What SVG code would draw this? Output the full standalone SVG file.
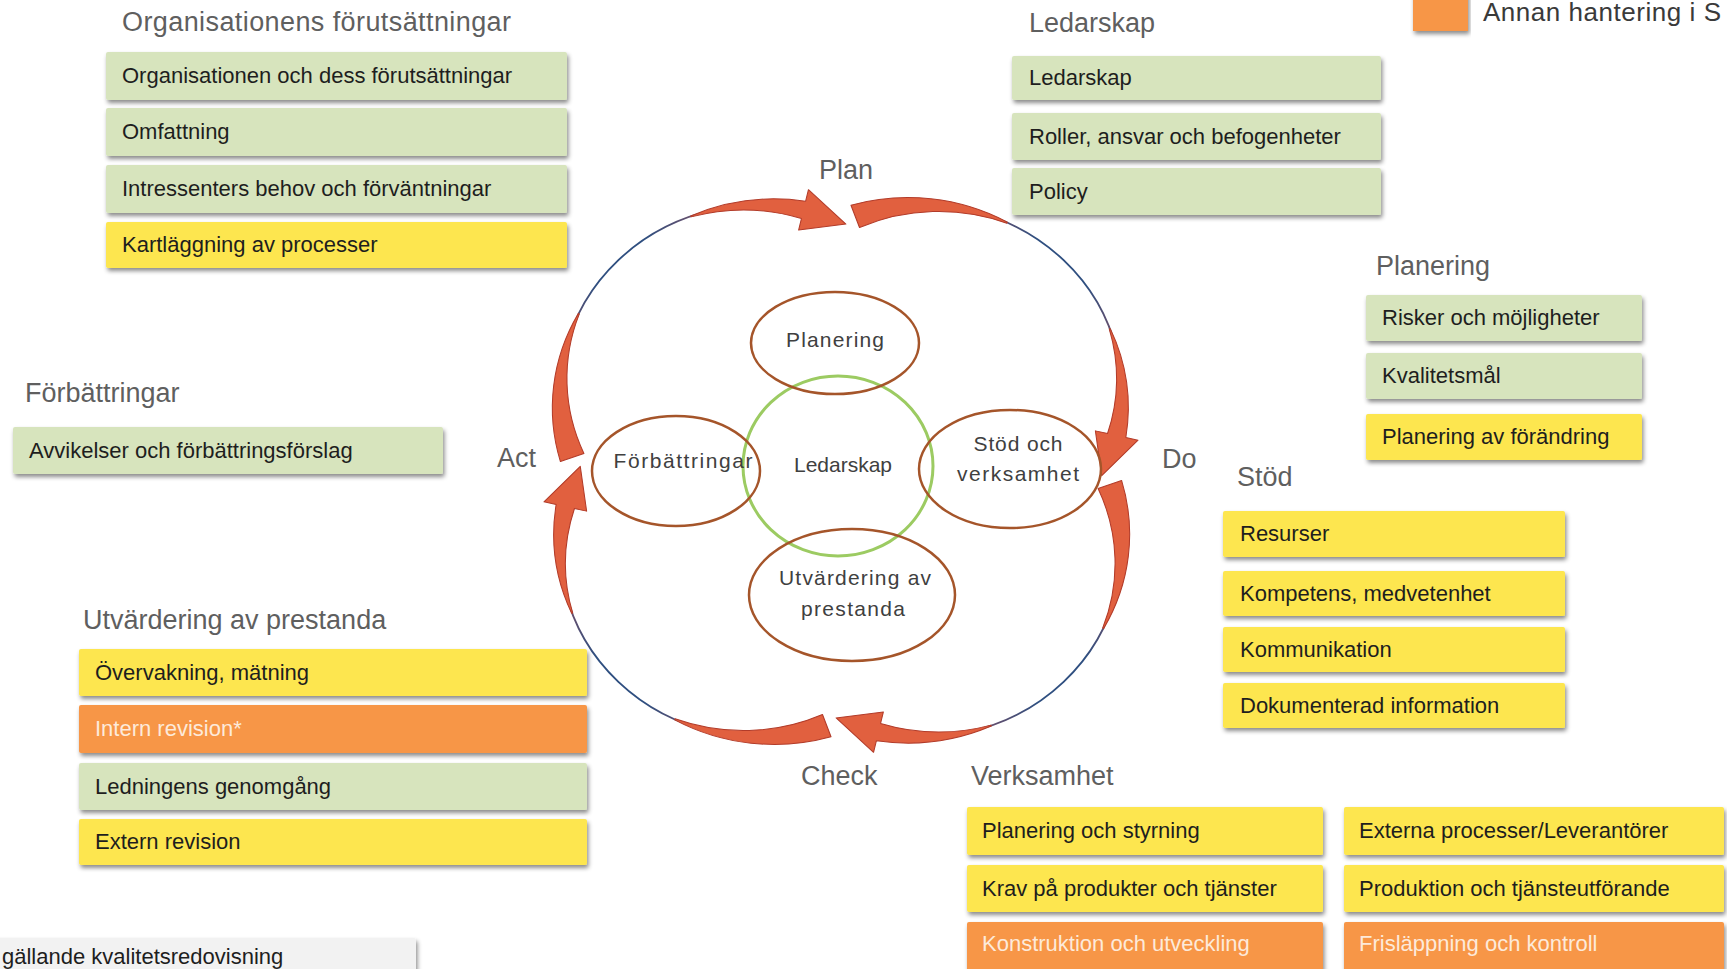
<svg xmlns="http://www.w3.org/2000/svg" width="1727" height="969" viewBox="0 0 1727 969">
<defs>
<filter id="sh" x="-5%" y="-20%" width="110%" height="150%">
<feDropShadow dx="1.5" dy="3" stdDeviation="2" flood-color="#000" flood-opacity="0.45"/>
</filter>
<linearGradient id="lg" gradientUnits="userSpaceOnUse" x1="-263" y1="-30" x2="-30" y2="-263">
<stop offset="0" stop-color="#c0504d"/>
<stop offset="0.4" stop-color="#2f4f80"/>
<stop offset="0.6" stop-color="#2f4f80"/>
<stop offset="1" stop-color="#c0504d"/>
</linearGradient>
</defs>
<style>
text{font-family:"Liberation Sans",Arial,sans-serif}
.t{font-size:22px;fill:#1e1e1e}
.tw{font-size:22px;fill:#fdeada}
.h{font-size:27px;fill:#5f5f5f}
.box{filter:url(#sh)}
.g{fill:#d7e4bd}
.y{fill:#fde64f}
.o{fill:#f79646}
.gr{fill:#f2f2f2}
.e{fill:none;stroke:#a5552a;stroke-width:2.5}
.et{font-size:21px;fill:#404040;text-anchor:middle}
.thin{fill:none;stroke:url(#lg);stroke-width:1.8}
.band{fill:#e1603f;stroke:#b23b29;stroke-width:1;stroke-linejoin:round}
</style>
<rect width="1727" height="969" fill="#ffffff"/>

<g id="connectors">
<g id="arrow-act-plan" transform="translate(841,471) scale(1.04,0.985)">
<path class="thin" d="M -263.5 -29.6 A 191 191 0 0 1 -29.6 -263.5"/>
<path class="band" d="M -269.8 -9.6 A 196 196 0 0 1 -252.6 -159.9 L -251.6 -159.5 A 186 186 0 0 0 -247.2 -17.8 Z"/>
<path class="band" d="M -144.5 -258.95 A 196 196 0 0 1 -34.0 -273.9 L -31.3 -285.6 L 4.7 -250.7 L -40.75 -244.6 L -38.05 -256.3 A 186 186 0 0 0 -144.15 -258.0 Z"/>
</g>
<g id="arrow-plan-do" transform="translate(841,471) scale(1.04,0.985) rotate(90)">
<path class="thin" d="M -263.5 -29.6 A 191 191 0 0 1 -29.6 -263.5"/>
<path class="band" d="M -269.8 -9.6 A 196 196 0 0 1 -252.6 -159.9 L -251.6 -159.5 A 186 186 0 0 0 -247.2 -17.8 Z"/>
<path class="band" d="M -144.5 -258.95 A 196 196 0 0 1 -34.0 -273.9 L -31.3 -285.6 L 4.7 -250.7 L -40.75 -244.6 L -38.05 -256.3 A 186 186 0 0 0 -144.15 -258.0 Z"/>
</g>
<g id="arrow-do-check" transform="translate(841,471) scale(1.04,0.985) rotate(180)">
<path class="thin" d="M -263.5 -29.6 A 191 191 0 0 1 -29.6 -263.5"/>
<path class="band" d="M -269.8 -9.6 A 196 196 0 0 1 -252.6 -159.9 L -251.6 -159.5 A 186 186 0 0 0 -247.2 -17.8 Z"/>
<path class="band" d="M -144.5 -258.95 A 196 196 0 0 1 -34.0 -273.9 L -31.3 -285.6 L 4.7 -250.7 L -40.75 -244.6 L -38.05 -256.3 A 186 186 0 0 0 -144.15 -258.0 Z"/>
</g>
<g id="arrow-check-act" transform="translate(841,471) scale(1.04,0.985) rotate(270)">
<path class="thin" d="M -263.5 -29.6 A 191 191 0 0 1 -29.6 -263.5"/>
<path class="band" d="M -269.8 -9.6 A 196 196 0 0 1 -252.6 -159.9 L -251.6 -159.5 A 186 186 0 0 0 -247.2 -17.8 Z"/>
<path class="band" d="M -144.5 -258.95 A 196 196 0 0 1 -34.0 -273.9 L -31.3 -285.6 L 4.7 -250.7 L -40.75 -244.6 L -38.05 -256.3 A 186 186 0 0 0 -144.15 -258.0 Z"/>
</g>
</g>

<g id="cycle-labels">
<text class="h" x="819" y="179" font-size="28">Plan</text>
<text class="h" x="1162" y="468" font-size="28">Do</text>
<text class="h" x="801" y="785" font-size="28">Check</text>
<text class="h" x="497" y="467" font-size="28">Act</text>
</g>

<g id="node-ledarskap-center">
<ellipse cx="838" cy="466" rx="95" ry="90" fill="none" stroke="#9ccb62" stroke-width="3"/>
<text class="et" x="843" y="472" font-size="22">Ledarskap</text>
</g>
<g id="node-planering-center">
<ellipse class="e" cx="835" cy="343" rx="84" ry="51"/>
<text class="et" x="835" y="347" textLength="98" lengthAdjust="spacing">Planering</text>
</g>
<g id="node-forbattringar-center">
<ellipse class="e" cx="676" cy="471" rx="84" ry="55"/>
<text class="et" x="683" y="468" textLength="139" lengthAdjust="spacing">Förbättringar</text>
</g>
<g id="node-stod-center">
<ellipse class="e" cx="1010" cy="469" rx="91" ry="59"/>
<text class="et" x="1018" y="451" textLength="89" lengthAdjust="spacing">Stöd och</text>
<text class="et" x="1018" y="481" textLength="122" lengthAdjust="spacing">verksamhet</text>
</g>
<g id="node-utvardering-center">
<ellipse class="e" cx="852" cy="595" rx="103" ry="66"/>
<text class="et" x="855" y="585" textLength="152" lengthAdjust="spacing">Utvärdering av</text>
<text class="et" x="853" y="616" textLength="104" lengthAdjust="spacing">prestanda</text>
</g>

<g id="legend">
<rect class="box o" x="1413" y="-8" width="55" height="39"/>
<text x="1483" y="21" font-size="26" fill="#3a3a3a" textLength="238" lengthAdjust="spacing">Annan hantering i S</text>
</g>

<g id="group-organisation">
<text class="h" x="122" y="31" textLength="389" lengthAdjust="spacing">Organisationens förutsättningar</text>
<g id="box-org1"><rect class="box g" x="106" y="52" width="461" height="48" rx="2"/><text class="t" x="122" y="83">Organisationen och dess förutsättningar</text></g>
<g id="box-org2"><rect class="box g" x="106" y="108" width="461" height="48" rx="2"/><text class="t" x="122" y="139">Omfattning</text></g>
<g id="box-org3"><rect class="box g" x="106" y="165" width="461" height="48" rx="2"/><text class="t" x="122" y="196">Intressenters behov och förväntningar</text></g>
<g id="box-org4"><rect class="box y" x="106" y="222" width="461" height="46" rx="2"/><text class="t" x="122" y="252">Kartläggning av processer</text></g>
</g>

<g id="group-ledarskap">
<text class="h" x="1029" y="32">Ledarskap</text>
<g id="box-led1"><rect class="box g" x="1012" y="56" width="369" height="44" rx="2"/><text class="t" x="1029" y="85">Ledarskap</text></g>
<g id="box-led2"><rect class="box g" x="1012" y="113" width="369" height="47" rx="2"/><text class="t" x="1029" y="144">Roller, ansvar och befogenheter</text></g>
<g id="box-led3"><rect class="box g" x="1012" y="168" width="369" height="47" rx="2"/><text class="t" x="1029" y="199">Policy</text></g>
</g>

<g id="group-planering">
<text class="h" x="1376" y="275">Planering</text>
<g id="box-plan1"><rect class="box g" x="1366" y="295" width="276" height="46" rx="2"/><text class="t" x="1382" y="325">Risker och möjligheter</text></g>
<g id="box-plan2"><rect class="box g" x="1366" y="353" width="276" height="46" rx="2"/><text class="t" x="1382" y="383">Kvalitetsmål</text></g>
<g id="box-plan3"><rect class="box y" x="1366" y="414" width="276" height="46" rx="2"/><text class="t" x="1382" y="444">Planering av förändring</text></g>
</g>

<g id="group-forbattringar">
<text class="h" x="25" y="402">Förbättringar</text>
<g id="box-forb1"><rect class="box g" x="13" y="427" width="430" height="47" rx="2"/><text class="t" x="29" y="458">Avvikelser och förbättringsförslag</text></g>
</g>

<g id="group-stod">
<text class="h" x="1237" y="486">Stöd</text>
<g id="box-stod1"><rect class="box y" x="1223" y="511" width="342" height="46" rx="2"/><text class="t" x="1240" y="541">Resurser</text></g>
<g id="box-stod2"><rect class="box y" x="1223" y="571" width="342" height="45" rx="2"/><text class="t" x="1240" y="601">Kompetens, medvetenhet</text></g>
<g id="box-stod3"><rect class="box y" x="1223" y="627" width="342" height="45" rx="2"/><text class="t" x="1240" y="657">Kommunikation</text></g>
<g id="box-stod4"><rect class="box y" x="1223" y="683" width="342" height="45" rx="2"/><text class="t" x="1240" y="713">Dokumenterad information</text></g>
</g>

<g id="group-utvardering">
<text class="h" x="83" y="629">Utvärdering av prestanda</text>
<g id="box-utv1"><rect class="box y" x="79" y="649" width="508" height="47" rx="2"/><text class="t" x="95" y="680">Övervakning, mätning</text></g>
<g id="box-utv2"><rect class="box o" x="79" y="705" width="508" height="48" rx="2"/><text class="tw" x="95" y="736">Intern revision*</text></g>
<g id="box-utv3"><rect class="box g" x="79" y="763" width="508" height="47" rx="2"/><text class="t" x="95" y="794">Ledningens genomgång</text></g>
<g id="box-utv4"><rect class="box y" x="79" y="819" width="508" height="46" rx="2"/><text class="t" x="95" y="849">Extern revision</text></g>
</g>

<g id="group-kvalitetsredovisning">
<rect class="box gr" x="-10" y="938" width="426" height="45" rx="2"/>
<text class="t" x="2" y="964">gällande kvalitetsredovisning</text>
</g>

<g id="group-verksamhet">
<text class="h" x="971" y="785">Verksamhet</text>
<g id="box-verk1"><rect class="box y" x="967" y="807" width="356" height="48" rx="2"/><text class="t" x="982" y="838">Planering och styrning</text></g>
<g id="box-verk2"><rect class="box y" x="1344" y="807" width="380" height="48" rx="2"/><text class="t" x="1359" y="838">Externa processer/Leverantörer</text></g>
<g id="box-verk3"><rect class="box y" x="967" y="865" width="356" height="47" rx="2"/><text class="t" x="982" y="896">Krav på produkter och tjänster</text></g>
<g id="box-verk4"><rect class="box y" x="1344" y="865" width="380" height="47" rx="2"/><text class="t" x="1359" y="896">Produktion och tjänsteutförande</text></g>
<g id="box-verk5"><rect class="box o" x="967" y="922" width="356" height="60" rx="2"/><text class="tw" x="982" y="951">Konstruktion och utveckling</text></g>
<g id="box-verk6"><rect class="box o" x="1344" y="922" width="380" height="60" rx="2"/><text class="tw" x="1359" y="951">Frisläppning och kontroll</text></g>
</g>
</svg>
